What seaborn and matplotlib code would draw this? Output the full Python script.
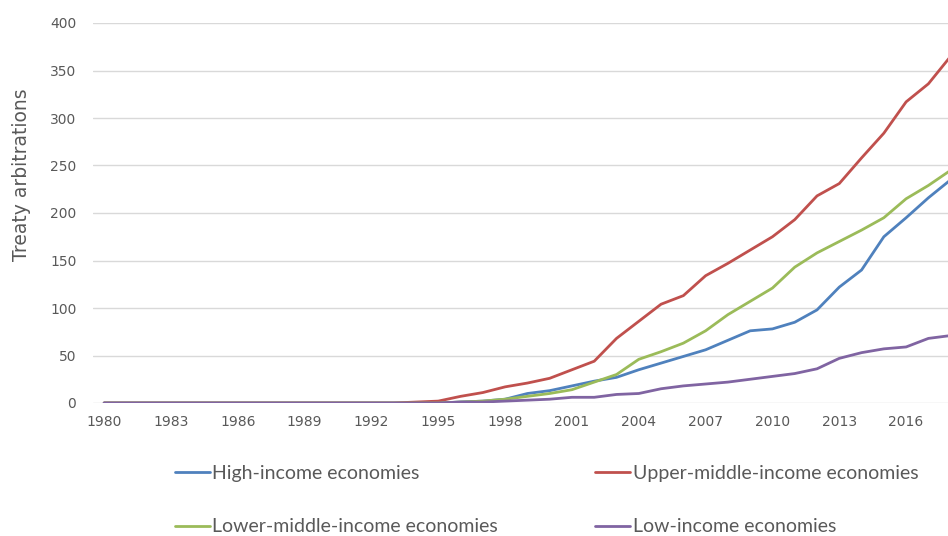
import numpy as np
import pandas as pd
import matplotlib
matplotlib.use("Agg")
import matplotlib.pyplot as plt
import seaborn as sns

years = list(range(1980, 2019))

# values, 1980-2018 (zeros until the early 1990s)
high_income = [0] * 15 + [0, 1, 2, 4, 10, 13, 18, 23, 27, 35, 42, 49, 56, 66, 76,
                          78, 85, 98, 122, 140, 175, 195, 216, 235]
upper_middle = [0] * 14 + [1, 2, 7, 11, 17, 21, 26, 35, 44, 68, 86, 104, 113, 134, 147,
                           161, 175, 193, 218, 231, 258, 284, 317, 336, 365]
lower_middle = [0] * 16 + [1, 2, 4, 7, 10, 14, 22, 30, 46, 54, 63, 76, 93, 107,
                           121, 143, 158, 170, 182, 195, 215, 229, 245]
low_income = [0] * 16 + [1, 1, 2, 3, 4, 6, 6, 9, 10, 15, 18, 20, 22, 25,
                         28, 31, 36, 47, 53, 57, 59, 68, 71]

series_names = ["High-income economies", "Upper-middle-income economies",
                "Lower-middle-income economies", "Low-income economies"]
colors = ["#4F81BD", "#C0504D", "#9BBB59", "#8064A2"]

df = pd.DataFrame({"Year": years,
                   series_names[0]: high_income,
                   series_names[1]: upper_middle,
                   series_names[2]: lower_middle,
                   series_names[3]: low_income})
long_df = df.melt(id_vars="Year", var_name="Group", value_name="Count")

sns.set_style("white")
fig = plt.figure(figsize=(9.48, 5.36), dpi=100)
ax = fig.add_axes([93 / 948, 1 - 403 / 536, 1 - 93 / 948, 380 / 536])

sns.lineplot(data=long_df, x="Year", y="Count", hue="Group", hue_order=series_names,
             palette=colors, linewidth=2, ax=ax, legend=False)

ax.set_xlim(1979.5, 2017.88)
ax.set_ylim(0, 400)
ax.set_xticks(range(1980, 2017, 3))
ax.set_yticks(range(0, 401, 50))
ax.grid(axis="y", color="#D9D9D9", linewidth=1)
ax.set_axisbelow(True)
for side in ["top", "right", "left", "bottom"]:
    ax.spines[side].set_visible(False)
ax.tick_params(axis="both", length=0, labelsize=10, labelcolor="#595959")
ax.tick_params(axis="x", pad=9)
ax.tick_params(axis="y", pad=12)
ax.set_xlabel("")
ax.set_ylabel("")

fig.text(22 / 948, 1 - 175 / 536, "Treaty arbitrations", rotation=90,
         ha="center", va="center", fontsize=13.5, color="#595959")

# legend reads row by row: reorder for matplotlib's column-first filling
handles = [plt.Line2D([], [], color=c, linewidth=2) for c in colors]
order = [0, 2, 1, 3]
fig.legend([handles[i] for i in order], [series_names[i] for i in order],
           ncol=2, loc="upper left",
           bbox_to_anchor=(157 / 948, 1 - 447 / 536), frameon=False,
           prop={"family": "Lato", "size": 14}, labelcolor="#595959",
           handlelength=1.8, handletextpad=0.15, columnspacing=5.0, labelspacing=1.9)

fig.savefig("out.png", dpi=100)
